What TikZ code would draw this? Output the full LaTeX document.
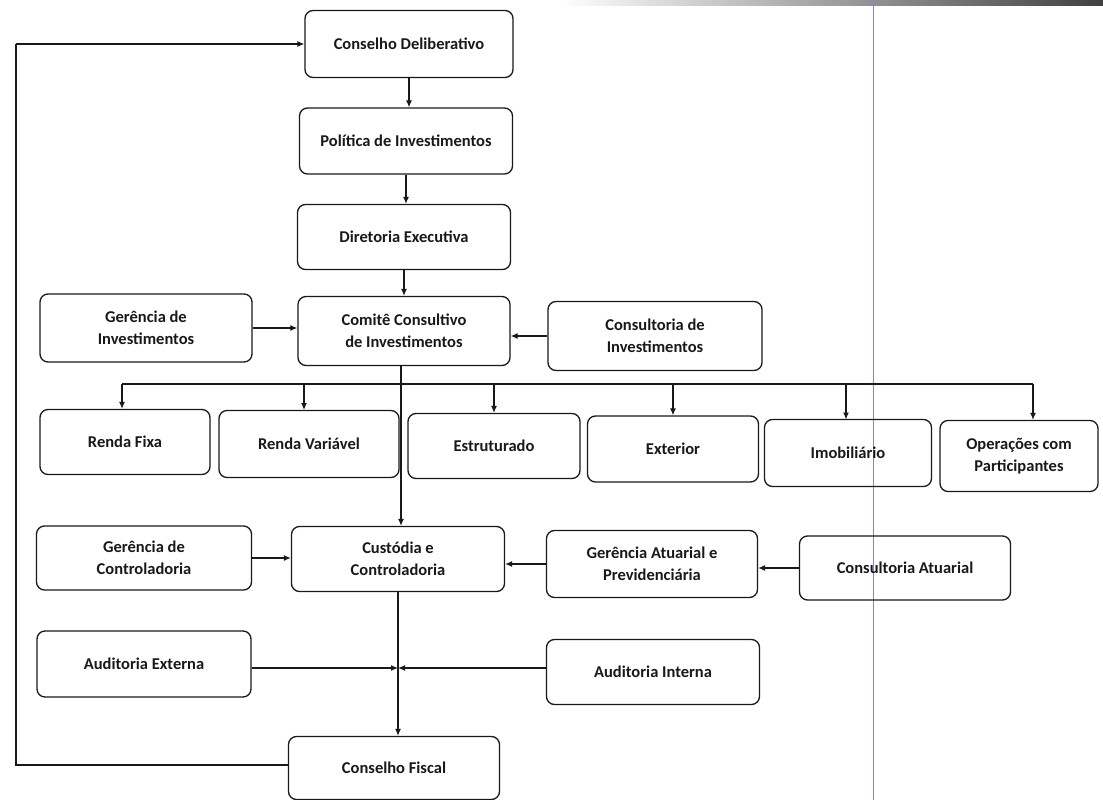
\documentclass[tikz,border=0pt]{standalone}
\usepackage{fontspec}
\setmainfont{Carlito}
\usetikzlibrary{arrows.meta}
\definecolor{ink}{rgb}{0.1,0.1,0.1}
\definecolor{margin}{rgb}{0.52,0.52,0.82}
\begin{document}
\begin{tikzpicture}[x=1pt,y=-1pt,
  box/.style={draw=ink, rounded corners=8pt, line width=1.3pt, align=center,
    inner sep=0pt, text=ink, font=\fontsize{16.5}{22}\selectfont\bfseries},
  arr/.style={draw=ink, line width=1.2pt, -{Latex[length=7pt,width=6pt]}},
  ln/.style={draw=ink, line width=1.2pt}]
\useasboundingbox (0,0) rectangle (1103,800);
\fill[white] (0,0) rectangle (1103,800);
\shade[left color=white, right color=black!75] (560,0) rectangle (1103,6);
\draw[margin, line width=1pt] (873,0) -- (873,800);

\node[box, minimum width=208pt, minimum height=67pt] (cd) at (409,44) {Conselho Deliberativo};
\node[box, minimum width=213pt, minimum height=66pt] (pi) at (406,141) {Política de Investimentos};
\node[box, minimum width=213pt, minimum height=65pt] (de) at (404,237) {Diretoria Executiva};
\node[box, minimum width=212pt, minimum height=68pt] (gi) at (146,328) {Gerência de\\Investimentos};
\node[box, minimum width=212pt, minimum height=69pt] (cci) at (404,331) {Comitê Consultivo\\de Investimentos};
\node[box, minimum width=214pt, minimum height=69pt] (ci) at (655,336) {Consultoria de\\Investimentos};

\node[box, minimum width=170pt, minimum height=65pt] (rf) at (125,442) {Renda Fixa};
\node[box, minimum width=180pt, minimum height=67pt] (rv) at (309,444) {Renda Variável};
\node[box, minimum width=172pt, minimum height=65pt] (es) at (494,446) {Estruturado};
\node[box, minimum width=171pt, minimum height=66pt] (ex) at (673,449) {Exterior};
\node[box, minimum width=167pt, minimum height=67pt] (im) at (848,453) {Imobiliário};
\node[box, minimum width=158pt, minimum height=71pt] (op) at (1019,456) {Operações com\\Participantes};

\node[box, minimum width=215pt, minimum height=64pt] (gc) at (144,558) {Gerência de\\Controladoria};
\node[box, minimum width=213pt, minimum height=65pt] (cc) at (398,559) {Custódia e\\Controladoria};
\node[box, minimum width=211pt, minimum height=67pt] (ga) at (652,564) {Gerência Atuarial e\\Previdenciária};
\node[box, minimum width=211pt, minimum height=64pt] (ca) at (905,568) {Consultoria Atuarial};

\node[box, minimum width=214pt, minimum height=66pt] (ae) at (144,664) {Auditoria Externa};
\node[box, minimum width=213pt, minimum height=65pt] (ai) at (653,672) {Auditoria Interna};
\node[box, minimum width=211pt, minimum height=63pt] (cf) at (394,768) {Conselho Fiscal};

% vertical chain
\draw[arr] (cd.south) -- (cd.south |- pi.north);
\draw[arr] (pi.south) -- (pi.south |- de.north);
\draw[arr] (de.south) -- (de.south |- cci.north);
% side inputs to committee
\draw[arr] (gi.east) -- (gi.east -| cci.west);
\draw[arr] (ci.west) -- (ci.west -| cci.east);
% trunk
\coordinate (tx) at (401,0);
\draw[arr] (tx |- cci.south) -- (tx |- cc.north);
% bus
\coordinate (busL) at (122,384);
\coordinate (busR) at (1033,384);
\draw[ln] (busL) -- (busR);
\draw[arr] (busL) -- (busL |- rf.north);
\draw[arr] (304,384) -- (304,410);
\draw[arr] (494,384) -- (es.north);
\draw[arr] (673,384) -- (ex.north);
\draw[arr] (846,384) -- (846,419.5);
\draw[arr] (busR) -- (busR |- op.north);
% control row
\draw[arr] (gc.east) -- (gc.east -| cc.west);
\draw[arr] (ga.west) -- (ga.west -| cc.east);
\draw[arr] (ca.west) -- (ca.west -| ga.east);
% audits
\coordinate (j) at (398,668);
\draw[arr] (cc.south) -- (cc.south |- cf.north);
\draw[arr] (ae.east |- j) -- (j);
\draw[arr] (ai.west |- j) -- (j);
% feedback loop
\coordinate (lb) at (16,765);
\coordinate (lt) at (16,44);
\draw[ln] (cf.west |- lb) -- (lb) -- (lt);
\draw[arr] (lt) -- (cd.west);
\end{tikzpicture}
\end{document}
